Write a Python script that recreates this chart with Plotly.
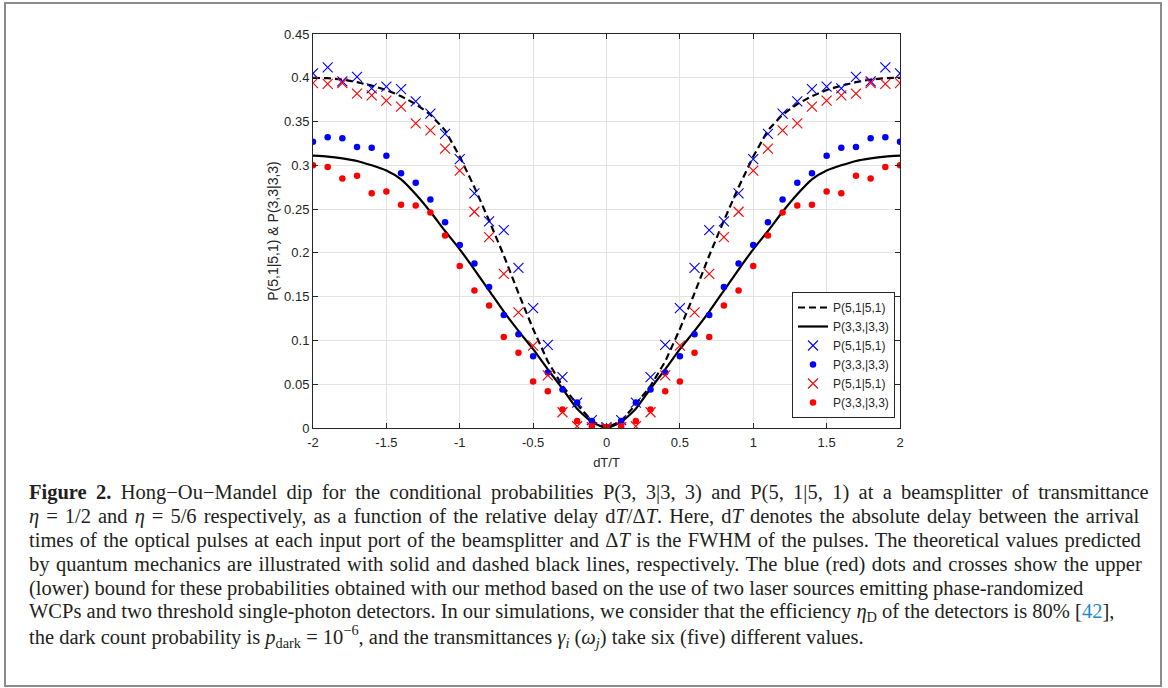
import plotly.graph_objects as go

# ---------------- data ----------------
dT = [-2.0, -1.9, -1.8, -1.7, -1.6, -1.5, -1.4, -1.3, -1.2, -1.1, -1.0,
      -0.9, -0.8, -0.7, -0.6, -0.5, -0.4, -0.3, -0.2, -0.1, 0.0,
      0.1, 0.2, 0.3, 0.4, 0.5, 0.6, 0.7, 0.8, 0.9, 1.0,
      1.1, 1.2, 1.3, 1.4, 1.5, 1.6, 1.7, 1.8, 1.9, 2.0]

theory_51 = [0.400, 0.3995, 0.398, 0.395, 0.391, 0.386, 0.379, 0.370, 0.358, 0.340, 0.310,
             0.275, 0.237, 0.197, 0.154, 0.113, 0.076, 0.048, 0.027, 0.008, 0.000,
             0.008, 0.027, 0.048, 0.076, 0.113, 0.154, 0.197, 0.237, 0.275, 0.310,
             0.340, 0.358, 0.370, 0.379, 0.386, 0.391, 0.395, 0.398, 0.3995, 0.400]

theory_33 = [0.311, 0.310, 0.308, 0.305, 0.300, 0.294, 0.284, 0.267, 0.247, 0.225, 0.204,
             0.181, 0.157, 0.133, 0.111, 0.090, 0.067, 0.045, 0.022, 0.007, 0.000,
             0.007, 0.022, 0.045, 0.067, 0.090, 0.111, 0.133, 0.157, 0.181, 0.204,
             0.225, 0.247, 0.267, 0.284, 0.294, 0.300, 0.305, 0.308, 0.310, 0.311]

upper_51 = [0.405, 0.412, 0.396, 0.401, 0.388, 0.390, 0.387, 0.373, 0.359, 0.336, 0.307,
            0.268, 0.236, 0.226, 0.183, 0.137, 0.095, 0.058, 0.029, 0.009, 0.001,
            0.009, 0.029, 0.058, 0.095, 0.137, 0.183, 0.226, 0.236, 0.268, 0.307,
            0.336, 0.359, 0.373, 0.387, 0.390, 0.388, 0.401, 0.396, 0.412, 0.405]

upper_33 = [0.327, 0.332, 0.331, 0.321, 0.320, 0.311, 0.291, 0.280, 0.261, 0.235, 0.209,
            0.188, 0.161, 0.129, 0.107, 0.082, 0.0635, 0.044, 0.029, 0.008, 0.001,
            0.008, 0.029, 0.044, 0.0635, 0.082, 0.107, 0.129, 0.161, 0.188, 0.209,
            0.235, 0.261, 0.280, 0.291, 0.311, 0.320, 0.321, 0.331, 0.332, 0.327]

lower_51 = [0.394, 0.393, 0.394, 0.382, 0.380, 0.374, 0.367, 0.348, 0.340, 0.319, 0.294,
            0.247, 0.218, 0.176, 0.132, 0.094, 0.060, 0.018, 0.002, 0.001, 0.000,
            0.001, 0.002, 0.018, 0.060, 0.094, 0.132, 0.176, 0.218, 0.247, 0.294,
            0.319, 0.340, 0.348, 0.367, 0.374, 0.380, 0.382, 0.394, 0.393, 0.394]

lower_33 = [0.300, 0.298, 0.285, 0.288, 0.268, 0.270, 0.255, 0.254, 0.246, 0.220, 0.185,
            0.157, 0.140, 0.104, 0.086, 0.053, 0.042, 0.021, 0.008, 0.002, 0.001,
            0.002, 0.008, 0.021, 0.042, 0.053, 0.086, 0.104, 0.140, 0.157, 0.185,
            0.220, 0.246, 0.254, 0.255, 0.270, 0.268, 0.288, 0.285, 0.298, 0.300]

x_ticks = [-2, -1.5, -1, -0.5, 0, 0.5, 1, 1.5, 2]
x_tick_text = ["-2", "-1.5", "-1", "-0.5", "0", "0.5", "1", "1.5", "2"]
y_ticks = [0, 0.05, 0.1, 0.15, 0.2, 0.25, 0.3, 0.35, 0.4, 0.45]
y_tick_text = ["0", "0.05", "0.1", "0.15", "0.2", "0.25", "0.3", "0.35", "0.4", "0.45"]

caption_lines = [
    "<b>Figure 2.</b> Hong\u2212Ou\u2212Mandel dip for the conditional probabilities P(3, 3|3, 3) and P(5, 1|5, 1) at a beamsplitter of transmittance",
    "<i>\u03b7</i> = 1/2 and <i>\u03b7</i> = 5/6 respectively, as a function of the relative delay d<i>T</i>/\u0394<i>T</i>. Here, d<i>T</i> denotes the absolute delay between the arrival",
    "times of the optical pulses at each input port of the beamsplitter and \u0394<i>T</i> is the FWHM of the pulses. The theoretical values predicted",
    "by quantum mechanics are illustrated with solid and dashed black lines, respectively. The blue (red) dots and crosses show the upper",
    "(lower) bound for these probabilities obtained with our method based on the use of two laser sources emitting phase-randomized",
    "WCPs and two threshold single-photon detectors. In our simulations, we consider that the efficiency <i>\u03b7</i><sub>D</sub> of the detectors is 80% [<span style='color:#1f8ac6'>42</span>],",
    "the dark count probability is <i>p</i><sub>dark</sub> = 10<sup>\u22126</sup>, and the transmittances <i>\u03b3<sub>i</sub></i> (<i>\u03c9<sub>j</sub></i>) take six (five) different values.",
]
# extra word spacing (px) used to justify the caption lines
caption_word_spacing = [4.2, 1.9, 1.2, 1.3, 0, 0, 0]

# ---------------- figure ----------------
W, H = 1168, 688
L, R, T, B = 313, 900, 34, 428   # plot area in pixels


def px(xp):
    return (xp - L) / (R - L)


def py(yp):
    return (B - yp) / (B - T)


fig = go.Figure()

fig.add_trace(go.Scatter(x=dT, y=theory_51, mode="lines", name="P(5,1|5,1)",
                         line=dict(color="black", width=2.2, dash="7px,4px")))
fig.add_trace(go.Scatter(x=dT, y=theory_33, mode="lines", name="P(3,3,|3,3)",
                         line=dict(color="black", width=2.2, shape="spline", smoothing=0.6)))
fig.add_trace(go.Scatter(x=dT, y=upper_51, mode="markers", name="P(5,1|5,1)",
                         marker=dict(symbol="x-thin", size=10, color="#0000ff",
                                     line=dict(color="#0000ff", width=1.1))))
fig.add_trace(go.Scatter(x=dT, y=upper_33, mode="markers", name="P(3,3,|3,3)",
                         marker=dict(symbol="circle", size=6.5, color="#0000ff")))
fig.add_trace(go.Scatter(x=dT, y=lower_51, mode="markers", name="P(5,1|5,1)",
                         marker=dict(symbol="x-thin", size=10, color="#ff0000",
                                     line=dict(color="#ff0000", width=1.1))))
fig.add_trace(go.Scatter(x=dT, y=lower_33, mode="markers", name="P(3,3,|3,3)",
                         marker=dict(symbol="circle", size=6.5, color="#ff0000")))

axis_common = dict(showline=True, linecolor="#262626", linewidth=1, mirror="ticks",
                   ticks="inside", ticklen=5, tickcolor="#262626",
                   showgrid=True, gridcolor="#e3e3e3", gridwidth=1, zeroline=False,
                   tickfont=dict(family="Liberation Sans, Arial", size=13, color="#262626"))

fig.update_xaxes(range=[-2, 2], tickvals=x_ticks, ticktext=x_tick_text,
                 ticklabelstandoff=2,
                 title=dict(text="dT/T", standoff=9,
                            font=dict(family="Liberation Sans, Arial", size=13, color="#262626")),
                 **axis_common)
fig.update_yaxes(range=[0, 0.45], tickvals=y_ticks, ticktext=y_tick_text,
                 ticklabelstandoff=0,
                 title=dict(text="P(5,1|5,1) & P(3,3|3,3)", standoff=2,
                            font=dict(family="Liberation Sans, Arial", size=14, color="#262626")),
                 **axis_common)

annotations = []
y0 = 492
for i, line in enumerate(caption_lines):
    ws = caption_word_spacing[i]
    text = f"<span style='word-spacing:{ws}px'>{line}</span>" if ws else line
    annotations.append(dict(
        x=px(27), y=py(y0 + 24 * i), xref="paper", yref="paper",
        xanchor="left", yanchor="middle", showarrow=False, align="left",
        text=text, font=dict(family="Liberation Serif, Times New Roman", size=20.5, color="#231f20")))

fig.update_layout(
    width=W, height=H,
    margin=dict(l=L, r=W - R, t=T, b=H - B, pad=0),
    paper_bgcolor="white", plot_bgcolor="white",
    showlegend=True,
    legend=dict(x=px(895), y=py(418), xanchor="right", yanchor="bottom",
                bgcolor="white", bordercolor="#262626", borderwidth=1,
                font=dict(family="Liberation Sans, Arial", size=12, color="#262626"),
                tracegroupgap=0, itemwidth=30),
    annotations=annotations,
    shapes=[dict(type="rect", xref="paper", yref="paper",
                 x0=px(5), x1=px(1161), y0=py(686), y1=py(3),
                 line=dict(color="#8c8c8c", width=2), fillcolor="rgba(0,0,0,0)", layer="below")],
)

fig.write_html("out.html", config={"displayModeBar": False},
               post_script="document.body.style.margin='0';document.body.style.overflow='hidden';")
